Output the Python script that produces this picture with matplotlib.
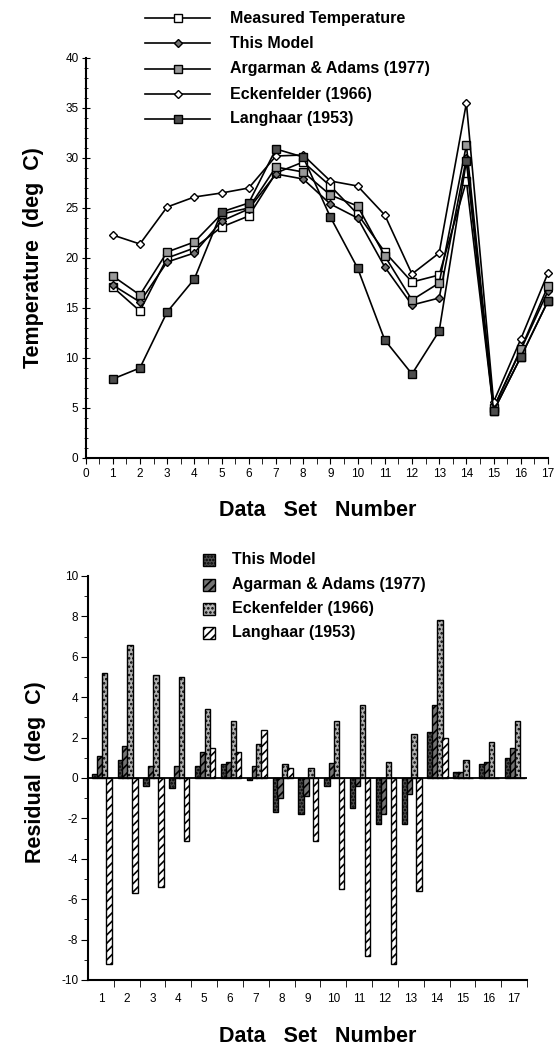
import matplotlib
matplotlib.use("Agg")
import matplotlib.pyplot as plt
import numpy as np
from matplotlib.ticker import MultipleLocator, FixedLocator
from matplotlib.patches import Rectangle
from matplotlib.lines import Line2D

plt.rcParams['font.family'] = ['Liberation Sans', 'DejaVu Sans']
plt.rcParams['hatch.linewidth'] = 1.2
plt.rcParams['axes.unicode_minus'] = False

# ---------------- data ----------------
data_sets = list(range(1, 18))

measured = [17.1, 14.7, 20.0, 21.0, 23.1, 24.2, 28.5, 29.6, 27.2, 24.4, 20.6, 17.6, 18.3, 27.7, 4.7, 10.1, 15.7]
this_model = [17.3, 15.6, 19.6, 20.5, 23.7, 24.9, 28.4, 27.9, 25.4, 24.0, 19.1, 15.3, 16.0, 30.0, 5.0, 10.8, 16.7]
argarman = [18.2, 16.3, 20.6, 21.6, 24.4, 25.0, 29.1, 28.6, 26.3, 25.2, 20.2, 15.8, 17.5, 31.3, 5.0, 10.9, 17.2]
eckenfelder = [22.3, 21.4, 25.1, 26.1, 26.5, 27.0, 30.2, 30.3, 27.7, 27.2, 24.3, 18.4, 20.5, 35.5, 5.6, 11.9, 18.5]
langhaar = [7.9, 9.0, 14.6, 17.9, 24.6, 25.5, 30.9, 30.1, 24.1, 19.0, 11.8, 8.4, 12.7, 29.7, 4.7, 10.1, 15.7]

res_this_model = [0.2, 0.9, -0.4, -0.5, 0.6, 0.7, -0.1, -1.7, -1.8, -0.4, -1.5, -2.3, -2.3, 2.3, 0.3, 0.7, 1.0]
res_agarman = [1.1, 1.6, 0.6, 0.6, 1.3, 0.8, 0.6, -1.0, -0.9, 0.75, -0.4, -1.8, -0.8, 3.6, 0.3, 0.8, 1.5]
res_eckenfelder = [5.2, 6.6, 5.1, 5.0, 3.4, 2.8, 1.7, 0.7, 0.5, 2.8, 3.6, 0.8, 2.2, 7.8, 0.9, 1.8, 2.8]
res_langhaar = [-9.2, -5.7, -5.4, -3.1, 1.5, 1.3, 2.4, 0.5, -3.1, -5.5, -8.8, -9.2, -5.6, 2.0, 0.0, 0.0, 0.0]

top_labels = ["Measured Temperature", "This Model", "Argarman & Adams (1977)",
              "Eckenfelder (1966)", "Langhaar (1953)"]
bottom_labels = ["This Model", "Agarman & Adams (1977)", "Eckenfelder (1966)", "Langhaar (1953)"]

W, H = 558, 1050
def fx(px):
    return px / W
def fy(py):
    return 1 - py / H

LABEL_FS = 15.5
LEG_FS = 11.5
TICK_FS = 8.5

fig = plt.figure(figsize=(W / 100, H / 100), dpi=100)

# ---------------- top chart ----------------
ax1 = fig.add_axes([fx(85.5), fy(458), fx(548) - fx(85.5), (458 - 58) / H])
x = np.array(data_sets)

styles = [
    dict(marker='s', mfc='white', mec='black', ms=5.5),
    dict(marker='D', mfc='0.45', mec='black', ms=4.5),
    dict(marker='s', mfc='0.6', mec='black', ms=5.5),
    dict(marker='D', mfc='white', mec='black', ms=4.5),
    dict(marker='s', mfc='0.3', mec='black', ms=5.5),
]
series = [measured, this_model, argarman, eckenfelder, langhaar]
for s, st, lab in zip(series, styles, top_labels):
    ax1.plot(x, s, color='black', lw=1.2, mew=1.0, label=lab, clip_on=False, **st)

ax1.set_xlim(0, 17)
ax1.set_ylim(0, 40)
ax1.xaxis.set_major_locator(MultipleLocator(1))
ax1.xaxis.set_minor_locator(MultipleLocator(0.5))
ax1.yaxis.set_major_locator(MultipleLocator(5))
ax1.yaxis.set_minor_locator(MultipleLocator(1))
for sp in ['top', 'right']:
    ax1.spines[sp].set_visible(False)
for sp in ['left', 'bottom']:
    ax1.spines[sp].set_linewidth(1.5)
ax1.tick_params(axis='y', which='both', direction='inout', labelsize=TICK_FS, pad=2)
ax1.tick_params(axis='y', which='major', length=6)
ax1.tick_params(axis='y', which='minor', length=3)
ax1.tick_params(axis='x', which='major', direction='out', length=4, labelsize=TICK_FS)
ax1.tick_params(axis='x', which='minor', direction='out', length=4)

fig.text(fx(34), fy(258), "Temperature  (deg  C)", rotation=90, ha='center', va='center',
         fontsize=LABEL_FS, fontweight='bold')
fig.text(fx(318), fy(511), "Data   Set   Number", ha='center', va='center',
         fontsize=LABEL_FS, fontweight='bold')

# legend (top), drawn with figure-coordinate artists
row_y = [18, 43, 68.5, 94, 119]
for yy, st, lab in zip(row_y, styles, top_labels):
    fig.add_artist(Line2D([fx(145), fx(210)], [fy(yy), fy(yy)], color='black', lw=1.2,
                          transform=fig.transFigure))
    fig.add_artist(Line2D([fx(178)], [fy(yy)], color='black', lw=0, mew=1.0,
                          transform=fig.transFigure, **st))
    fig.text(fx(230), fy(yy), lab, ha='left', va='center', fontsize=LEG_FS, fontweight='bold')

# ---------------- bottom chart ----------------
ax2 = fig.add_axes([fx(88), fy(980), fx(527) - fx(88), (980 - 576) / H])
w = 0.21
offsets = [-0.25, -0.06, 0.13, 0.32]
bar_styles = [
    dict(facecolor='0.3', hatch='.....', edgecolor='black'),
    dict(facecolor='0.45', hatch='////', edgecolor='black'),
    dict(facecolor='0.7', hatch='....', edgecolor='black'),
    dict(facecolor='white', hatch='////', edgecolor='black'),
]
res_series = [res_this_model, res_agarman, res_eckenfelder, res_langhaar]
for r, off, st, lab in zip(res_series, offsets, bar_styles, bottom_labels):
    ax2.bar(x + off, r, width=w, linewidth=1.0, label=lab, **st)

ax2.axhline(0, color='black', lw=1.3)
ax2.set_xlim(0.5, 17.5)
ax2.set_ylim(-10, 10)
ax2.set_xticks(data_sets)
ax2.xaxis.set_minor_locator(FixedLocator(np.arange(1.5, 17.6, 1.0)))
ax2.yaxis.set_major_locator(MultipleLocator(2))
ax2.yaxis.set_minor_locator(MultipleLocator(1))
for sp in ['top', 'right']:
    ax2.spines[sp].set_visible(False)
for sp in ['left', 'bottom']:
    ax2.spines[sp].set_linewidth(1.5)
ax2.tick_params(axis='y', which='both', direction='out', labelsize=TICK_FS, pad=2)
ax2.tick_params(axis='y', which='major', length=5)
ax2.tick_params(axis='y', which='minor', length=3)
ax2.tick_params(axis='x', which='major', length=0, labelsize=TICK_FS, pad=9)
ax2.tick_params(axis='x', which='minor', direction='out', length=5)

fig.text(fx(36), fy(772), "Residual  (deg  C)", rotation=90, ha='center', va='center',
         fontsize=LABEL_FS, fontweight='bold')
fig.text(fx(318), fy(1036), "Data   Set   Number", ha='center', va='center',
         fontsize=LABEL_FS, fontweight='bold')

# legend (bottom)
brow_y = [560, 585, 609, 633]
for yy, st, lab in zip(brow_y, bar_styles, bottom_labels):
    fig.add_artist(Rectangle((fx(203), fy(yy + 6)), fx(12), 12 / H, linewidth=1.0,
                             transform=fig.transFigure, **st))
    fig.text(fx(232), fy(yy), lab, ha='left', va='center', fontsize=LEG_FS, fontweight='bold')

fig.savefig("out.png", dpi=100)
